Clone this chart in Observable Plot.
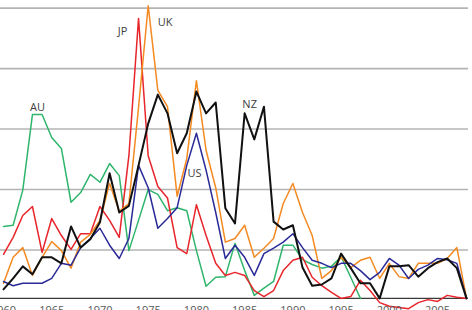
<!DOCTYPE html>
<html>
<head>
<meta charset="utf-8">
<script src="https://cdn.jsdelivr.net/npm/d3@7"></script>
<script src="https://cdn.jsdelivr.net/npm/@observablehq/plot@0.6"></script>
<style>
  body { margin: 0; background: #fff; }
  #chart { width: 472px; height: 310px; overflow: hidden; }
  #chart svg { display: block; }
</style>
</head>
<body>
<div id="chart"></div>
<script>
// Annual series, 1960–2008
const years = d3.range(1960, 2009);

const au = [11.9, 12.1, 17.9, 30.4, 30.4, 26.6, 24.8, 15.9, 17.5, 20.5,
            19.2, 22.3, 20.3, 7.9, 12.9, 18.0, 17.2, 14.5, 15.0, 14.5,
            7.9, 2.0, 3.5, 3.6, 9.1, 4.6, 0.5, 1.7, 2.8, 8.8,
            8.8, 6.4, 5.6, 5.0, 5.3, 6.9, 3.5, 0];

const jp = [7.3, 10.1, 13.7, 15.2, 7.6, 13.2, 10.4, 8.1, 10.7, 10.7,
            15.2, 12.9, 10.1, 23.6, 46.3, 23.6, 18.5, 16.6, 8.4, 7.4,
            15.5, 10.4, 5.8, 3.8, 4.3, 3.8, 1.3, 0.3, 1.3, 4.6,
            6.3, 6.8, 3.5, 2.1, 1.0, 0, 0.3, 3.0, 1.3, -0.7,
            -1.3, -1.5, -1.7, -0.7, -0.2, -0.5, 0.5, 0.2, 0];

const uk = [2.5, 6.8, 8.4, 3.8, 6.8, 9.4, 7.9, 5.0, 9.3, 10.6,
            12.9, 19.0, 14.4, 15.7, 31.6, 48.4, 34.4, 31.7, 16.9, 23.1,
            36.0, 24.5, 18.3, 9.3, 9.9, 12.1, 6.8, 8.3, 9.9, 15.7,
            19.0, 14.2, 10.4, 3.3, 4.6, 6.8, 5.1, 6.3, 6.8, 3.3,
            5.8, 3.6, 3.3, 5.8, 5.8, 5.8, 6.6, 8.4, 0];

const us = [2.8, 2.1, 2.5, 2.5, 2.5, 3.3, 5.8, 5.5, 8.4, 9.9,
            11.6, 8.8, 6.6, 9.9, 22.0, 18.3, 11.6, 13.2, 15.0, 22.0,
            27.3, 21.2, 14.2, 6.6, 8.8, 6.8, 3.8, 7.4, 8.3, 9.3,
            10.7, 8.4, 6.3, 5.8, 5.1, 5.8, 5.8, 4.6, 3.1, 4.3,
            6.6, 5.5, 3.3, 4.8, 5.5, 6.6, 6.4, 5.8, 0];

const nz = [1.5, 3.3, 5.3, 4.0, 6.8, 6.8, 5.8, 11.9, 8.4, 9.8,
            12.6, 20.7, 14.2, 15.3, 22.0, 28.9, 33.7, 30.6, 24.0, 27.3,
            34.2, 30.6, 32.4, 14.9, 12.4, 30.6, 26.3, 31.7, 12.7, 11.4,
            12.1, 5.1, 2.1, 2.3, 3.3, 7.4, 5.0, 2.5, 2.5, 0,
            5.3, 5.3, 5.5, 3.6, 5.0, 6.0, 6.6, 5.0, 0];

const gridValues = [8, 18, 28, 38, 48];
const tickYears = [1960, 1965, 1970, 1975, 1980, 1985, 1990, 1995, 2000, 2005];

// Long-format rows for the line marks
const series = [
  {name: "AU", values: au, color: "#2fb56c"},
  {name: "JP", values: jp, color: "#e8252b"},
  {name: "UK", values: uk, color: "#f48a22"},
  {name: "US", values: us, color: "#2a2a98"},
  {name: "NZ", values: nz, color: "#111111"}
];
const rows = series.flatMap(s =>
  s.values.map((v, i) => ({name: s.name, year: years[i], value: v}))
);
const point = (name, year) => rows.filter(r => r.name === name && r.year === year);

const font = "'Open Sans', 'Liberation Sans', sans-serif";

// Series name set beside a notable point of its own line
const nameLabel = (name, year, dx, dy) =>
  Plot.text(point(name, year), {
    x: "year", y: "value", text: "name", dx, dy,
    fill: "#404040", fontSize: 11
  });

const chart = Plot.plot({
  width: 472,
  height: 310,
  marginTop: 0,
  marginBottom: 0,
  marginLeft: 3,
  marginRight: 6,
  style: {fontFamily: font, background: "#fff"},
  x: {domain: [1960, 2008], axis: null},
  y: {domain: [-2, 49.26], axis: null},
  color: {domain: series.map(s => s.name), range: series.map(s => s.color)},
  marks: [
    Plot.ruleY(gridValues, {stroke: "#b4b4b4", strokeWidth: 1.6, insetLeft: -3, insetRight: -2}),
    Plot.ruleY([0], {stroke: "#3a3a3a", strokeWidth: 1.4, insetLeft: -3, insetRight: -2}),
    Plot.line(rows.filter(r => r.name !== "NZ"), {
      x: "year", y: "value", z: "name", stroke: "name", strokeWidth: 1.5
    }),
    Plot.line(rows.filter(r => r.name === "NZ"), {
      x: "year", y: "value", stroke: "name", strokeWidth: 2
    }),
    nameLabel("AU", 1963, 5, -7),
    nameLabel("JP", 1974, -16, 13),
    nameLabel("UK", 1975, 17, 17),
    nameLabel("NZ", 1985, 5, -9),
    nameLabel("US", 1980, -2, 40),
    Plot.text(tickYears, {
      x: d => d, frameAnchor: "bottom", lineAnchor: "top", dy: -4,
      text: d => String(d), fill: "#595959", fontSize: 11
    })
  ]
});

document.getElementById("chart").appendChild(chart);
</script>
</body>
</html>
